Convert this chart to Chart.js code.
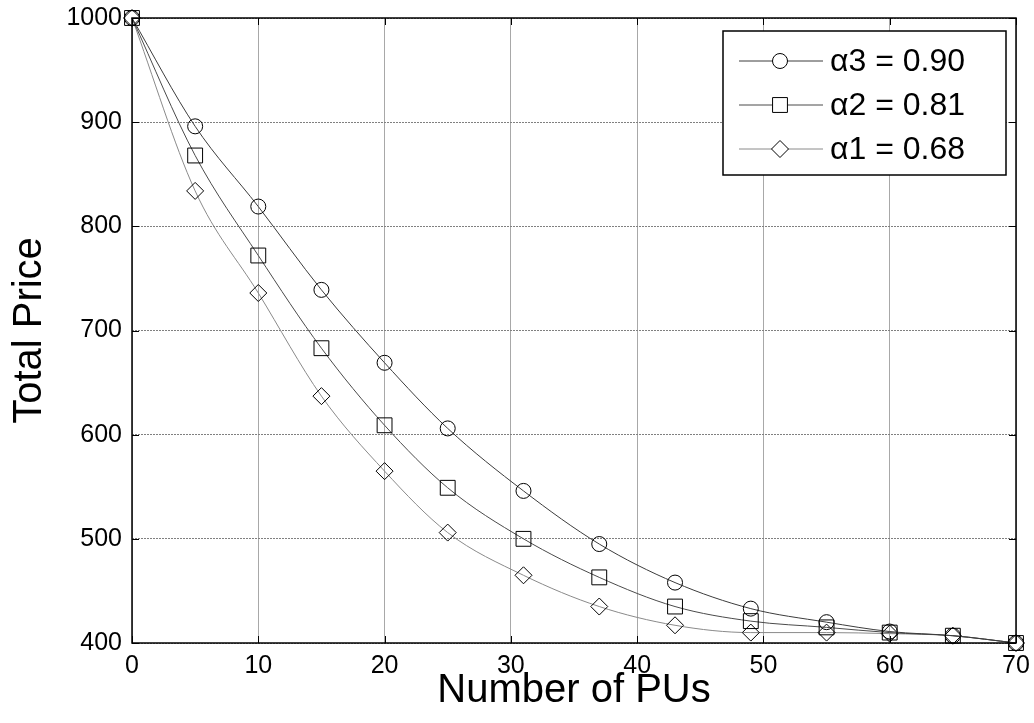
<!DOCTYPE html>
<html>
<head>
<meta charset="utf-8">
<script src="https://cdn.jsdelivr.net/npm/chart.js@4/dist/chart.umd.min.js"></script>
<style>
  body { margin: 0; background: #fff; }
  #wrap { width: 1034px; height: 723px; }
</style>
</head>
<body>
<div id="wrap"><canvas id="priceChart" width="1034" height="723"></canvas></div>
<script>
// values
const numPUs = [0, 5, 10, 15, 20, 25, 31, 37, 43, 49, 55, 60, 65, 70];
const alpha3 = [1000, 896, 819, 739, 669, 606, 546, 495, 458, 433, 420, 411, 407, 400];
const alpha2 = [1000, 868, 772, 683, 609, 549, 500, 463, 435, 421, 415, 410, 407, 400];
const alpha1 = [1000, 834, 736, 637, 565, 506, 465, 435, 417, 410, 410, 409, 407, 400];
const seriesLabels = ["\u03b13 = 0.90", "\u03b12 = 0.81", "\u03b11 = 0.68"];
const FONT = "'Liberation Sans', Arial, sans-serif";

function toPoints(ys) {
  return ys.map((y, i) => ({ x: numPUs[i], y: y }));
}

function makeSet(label, ys, style, radius, lineColor) {
  return {
    label: label,
    data: toPoints(ys),
    borderColor: lineColor,
    borderWidth: 1,
    cubicInterpolationMode: "monotone",
    pointStyle: style,
    pointRadius: radius,
    pointBorderColor: "#000",
    pointBackgroundColor: "rgba(0,0,0,0)",
    pointBorderWidth: 1,
    clip: false
  };
}

// box round the plot, inward ticks, and the legend box
const framePlugin = {
  id: "frame",
  afterDatasetsDraw(chart) {
    const ctx = chart.ctx;
    const a = chart.chartArea;
    const xs = chart.scales.x, ys = chart.scales.y;
    ctx.save();
    ctx.strokeStyle = "#000";
    ctx.lineWidth = 1.5;
    ctx.strokeRect(a.left, a.top, a.right - a.left, a.bottom - a.top);
    ctx.lineWidth = 1;
    ctx.beginPath();
    xs.ticks.forEach(t => {
      const px = Math.round(xs.getPixelForValue(t.value)) + 0.5;
      ctx.moveTo(px, a.bottom); ctx.lineTo(px, a.bottom - 7);
      ctx.moveTo(px, a.top); ctx.lineTo(px, a.top + 7);
    });
    ys.ticks.forEach(t => {
      const py = Math.round(ys.getPixelForValue(t.value)) + 0.5;
      ctx.moveTo(a.left, py); ctx.lineTo(a.left + 7, py);
      ctx.moveTo(a.right, py); ctx.lineTo(a.right - 7, py);
    });
    ctx.stroke();

    // legend
    const bx = a.right - 293, by = a.top + 13, bw = 283, bh = 144;
    ctx.fillStyle = "#fff";
    ctx.fillRect(bx, by, bw, bh);
    ctx.lineWidth = 1.5;
    ctx.strokeRect(bx, by, bw, bh);
    ctx.font = "32px " + FONT;
    ctx.textBaseline = "middle";
    ctx.textAlign = "left";
    chart.data.datasets.forEach((ds, i) => {
      const ry = by + 30 + i * 44;
      ctx.strokeStyle = ds.borderColor;
      ctx.lineWidth = 1;
      ctx.beginPath();
      ctx.moveTo(bx + 16, ry); ctx.lineTo(bx + 100, ry);
      ctx.stroke();
      ctx.strokeStyle = "#000";
      ctx.fillStyle = "#fff";
      Chart.helpers.drawPoint(ctx, { pointStyle: ds.pointStyle, radius: ds.pointRadius, borderWidth: 1 }, bx + 57, ry);
      ctx.fillStyle = "#000";
      ctx.fillText(ds.label, bx + 107, ry + 1);
    });
    ctx.restore();
  }
};

new Chart(document.getElementById("priceChart"), {
  type: "line",
  data: {
    datasets: [
      makeSet(seriesLabels[0], alpha3, "circle", 7.5, "#3c3c3c"),
      makeSet(seriesLabels[1], alpha2, "rect", 10.5, "#4a4a4a"),
      makeSet(seriesLabels[2], alpha1, "rectRot", 8.5, "#8a8a8a")
    ]
  },
  options: {
    responsive: false,
    animation: false,
    layout: { padding: { top: 18, right: 18, left: 0, bottom: 0 } },
    plugins: { legend: { display: false }, tooltip: { enabled: false } },
    scales: {
      x: {
        type: "linear",
        min: 0, max: 70,
        afterFit: s => { s.height = 80; s.paddingLeft = 0; s.paddingRight = 0; },
        ticks: { stepSize: 10, padding: 8, color: "#000", font: { family: FONT, size: 25 } },
        grid: { color: "#a8a8a8", lineWidth: 1, drawTicks: false },
        border: { display: false },
        title: { display: true, text: "Number of PUs", color: "#000", font: { family: FONT, size: 40 }, padding: { top: 0, bottom: 8 } }
      },
      y: {
        min: 400, max: 1000,
        afterFit: s => { s.width = 132; s.paddingTop = 0; s.paddingBottom = 0; },
        ticks: { stepSize: 100, padding: 10, color: "#000", font: { family: FONT, size: 25 }, callback: v => String(v) },
        grid: { color: "#808080", lineWidth: 1, drawTicks: false },
        border: { display: false, dash: [2, 1] },
        title: { display: true, text: "Total Price", color: "#000", font: { family: FONT, size: 40 }, padding: { top: 6, bottom: 0 } }
      }
    }
  },
  plugins: [framePlugin]
});
</script>
</body>
</html>
